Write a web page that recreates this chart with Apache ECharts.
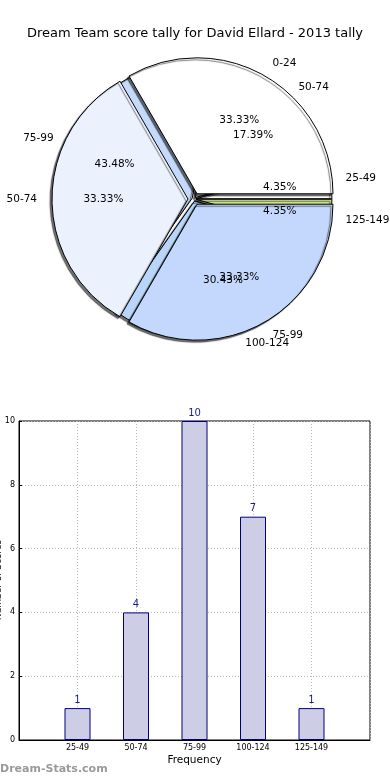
<!DOCTYPE html>
<html>
<head>
<meta charset="utf-8">
<script src="https://cdn.jsdelivr.net/npm/echarts@6/dist/echarts.min.js"></script>
<style>
html,body{margin:0;padding:0;background:#fff;}
#c{width:390px;height:780px;}
</style>
</head>
<body>
<div id="c"></div>
<script>
// ---- data ----
const titleText = 'Dream Team score tally for David Ellard - 2013 tally';
const yAxisTitle = 'Number of Scores';
const pie1Names = ['25-49', '50-74', '75-99', '100-124', '125-149'];
const pie1Values = [1, 4, 10, 7, 1];
const pie2Names = ['0-24', '50-74', '75-99'];
const pie2Values = [1, 1, 1];
const pie1Colors = ['#ffffff', '#ebf2fe', '#c5d9fb', '#b8d5fa', '#d2ea8e'];
const pie2Colors = ['#ffffff', '#ebf2fe', '#c4d8fd'];
const barCategories = ['25-49', '50-74', '75-99', '100-124', '125-149'];
const barValues = [1, 4, 10, 7, 1];
const yTicks = [0, 2, 4, 6, 8, 10];

// ---- layout ----
const FONT = 'DejaVu Sans';
const CX = 194, CY = 199, R = 136;
const OFF1 = 2, OFF2 = 6;

function sum(a){ return a.reduce((s, v) => s + v, 0); }
function pieData(names, values, colors, withColor){
  return names.map((n, i) => ({
    name: n, value: values[i], selected: true,
    itemStyle: withColor ? { color: colors[i] } : { color: 'rgba(0,0,0,0)', borderWidth: 0 }
  }));
}
const common = {
  type: 'pie', center: [CX, CY], startAngle: 0, clockwise: false,
  selectedMode: 'multiple', avoidLabelOverlap: false, animation: false,
  emphasis: { disabled: true }, silent: true,
  labelLayout: { hideOverlap: false }
};
function wedgeSeries(names, values, colors, off, z){
  return Object.assign({}, common, {
    radius: R, z: z, selectedOffset: off,
    data: pieData(names, values, colors, true),
    itemStyle: { borderColor: '#000', borderWidth: 1,
      shadowColor: 'rgba(0,0,0,0.55)', shadowBlur: 1, shadowOffsetX: -2, shadowOffsetY: 2 },
    label: { show: false }, labelLine: { show: false }
  });
}
function nameSeries(names, values, off){
  return Object.assign({}, common, {
    radius: R, z: 10, selectedOffset: off,
    data: pieData(names, values, null, false),
    label: { show: true, position: 'outside', formatter: '{b}', fontFamily: FONT,
      fontSize: 10.5, color: '#000', distanceToLabelLine: 0 },
    labelLine: { show: false, length: R * 0.11, length2: 0 }
  });
}
function pctSeries(names, values, off){
  const tot = sum(values);
  return Object.assign({}, common, {
    radius: [R * 0.2, R], z: 10, selectedOffset: off,
    data: pieData(names, values, null, false),
    label: { show: true, position: 'inside',
      formatter: p => (p.value / tot * 100).toFixed(2) + '%',
      fontFamily: FONT, fontSize: 10.5, color: '#000' },
    labelLine: { show: false }
  });
}

const chart = echarts.init(document.getElementById('c'), null, { renderer: 'canvas' });
chart.setOption({
  animation: false,
  backgroundColor: '#fff',
  title: [
    { text: titleText, left: 'center', top: 22,
      textStyle: { fontFamily: FONT, fontSize: 13, fontWeight: 'normal', color: '#000' } },
    { text: 'Dream-Stats.com', left: 0, top: 764, padding: 0,
      textStyle: { fontFamily: FONT, fontSize: 11, fontWeight: 'bold', color: '#9a9a9a' } }
  ],
  graphic: [{
    type: 'text', x: -6, y: 580, rotation: Math.PI / 2, silent: true,
    style: { text: yAxisTitle, fontFamily: FONT, fontSize: 9, fill: '#000',
      align: 'center', verticalAlign: 'top' }
  }],
  grid: { left: 19, right: 20, top: 421, bottom: 40, show: true, borderColor: '#000', borderWidth: 1,
    containLabel: false, outerBoundsMode: 'none' },
  xAxis: {
    type: 'value', min: 0, max: barCategories.length + 1, interval: 1,
    name: 'Frequency', nameLocation: 'middle', nameGap: 15, nameMoveOverlap: false,
    nameTextStyle: { fontFamily: FONT, fontSize: 10.5, color: '#000' },
    axisLine: { show: true, lineStyle: { color: '#000' } },
    axisTick: { show: false },
    axisLabel: { fontFamily: FONT, fontSize: 8, color: '#000', margin: 4,
      formatter: v => barCategories[v - 1] || '' },
    splitLine: { show: true, lineStyle: { color: '#b8b8b8', type: [1, 2] } }
  },
  yAxis: {
    type: 'value', min: yTicks[0], max: yTicks[yTicks.length - 1], interval: 2,
    axisLine: { show: true, lineStyle: { color: '#000' } },
    axisTick: { show: true, inside: true, length: 3, lineStyle: { color: '#000' } },
    axisLabel: { fontFamily: FONT, fontSize: 8, color: '#000', margin: 4 },
    splitLine: { show: true, lineStyle: { color: '#b8b8b8', type: [1, 2] } }
  },
  series: [
    wedgeSeries(pie1Names, pie1Values, pie1Colors, OFF1, 2),
    wedgeSeries(pie2Names, pie2Values, pie2Colors, OFF2, 3),
    nameSeries(pie1Names, pie1Values, OFF1),
    nameSeries(pie2Names, pie2Values, OFF2),
    pctSeries(pie1Names, pie1Values, OFF1),
    pctSeries(pie2Names, pie2Values, OFF2),
    {
      type: 'bar', z: 5,
      data: barValues.map((v, i) => [i + 1, v]),
      barWidth: 26,
      itemStyle: { color: '#cdcde6', borderColor: '#00007f', borderWidth: 1 },
      label: { show: true, position: 'top', distance: 3, fontFamily: FONT, fontSize: 10, color: '#1c1c8c' }
    }
  ]
});
</script>
</body>
</html>
